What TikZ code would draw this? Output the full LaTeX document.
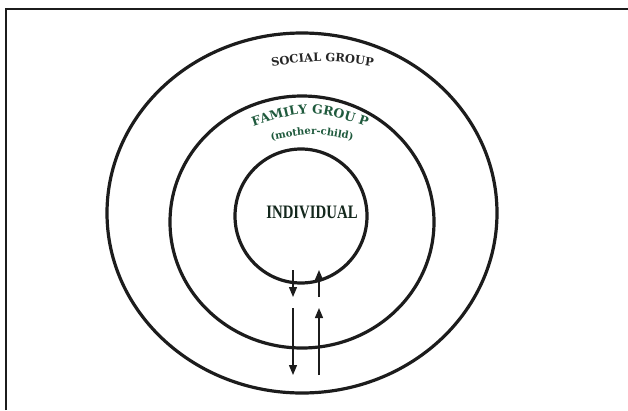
\documentclass[tikz,border=0pt]{standalone}
\usepackage{fontspec}
\setmainfont{Liberation Serif}
\newfontfamily\ringfont{DejaVu Serif}
\usetikzlibrary{shapes.geometric, arrows.meta, decorations.text}
\definecolor{ringLine}{HTML}{1C1C1C}
\definecolor{socialText}{HTML}{262626}
\definecolor{familyGreen}{HTML}{1F5A3D}
\definecolor{coreGreen}{HTML}{14281D}

\tikzset{
  ring/.style={draw=ringLine, ellipse, line width=3.2pt, inner sep=0pt},
  flow/.style={draw=ringLine, line width=1.3pt, -{Triangle[length=10pt,width=8pt]}},
}

\begin{document}
\begin{tikzpicture}[x=1pt, y=-1pt]
  \useasboundingbox (0,0) rectangle (628,410);
  % frame
  \draw[line width=2pt, ringLine] (6,410) -- (6,9) -- (628,9);
  % the three rings
  \node[ring, minimum width=390pt, minimum height=360pt] (social) at (302,213) {};
  \node[ring, minimum width=264pt, minimum height=252pt] (family) at (302,222) {};
  \node[ring, minimum width=132pt, minimum height=134pt] (self) at (301,216) {};
  % ring labels
  \path[decorate, decoration={text along path, text align=center, text color=socialText,
        text={|\ringfont\bfseries\fontsize{11.5}{13}\selectfont|SOCIAL GROUP}}]
        (255,69) .. controls (322,59) .. (390,69);
  \path[decorate, decoration={text along path, text align=center, text color=familyGreen,
        text={|\ringfont\bfseries\fontsize{12.5}{14}\selectfont|FAMILY GROU P}}]
        (235,133) .. controls (310,107) .. (385,133);
  \path[decorate, decoration={text along path, text align=center, text color=familyGreen,
        text={|\ringfont\bfseries\fontsize{10}{12}\selectfont|(mother-child)}}]
        (262,142) .. controls (312,132) .. (362,142);
  \node[font=\bfseries\fontsize{19}{21}\selectfont, text=coreGreen, xscale=0.78,
        inner sep=0pt] (core) at (312,212) {INDIVIDUAL};
  % exchange arrows
  \coordinate (downA) at (293,270);
  \coordinate (downB) at (293,297);
  \coordinate (upA) at (319,297);
  \coordinate (upB) at (319,270);
  \coordinate (downC) at (293,308);
  \coordinate (downD) at (293,375);
  \coordinate (upC) at (319,375);
  \coordinate (upD) at (319,308);
  \draw[flow] (downA) -- (downB);
  \draw[flow] (upA) -- (upB);
  \draw[flow] (downC) -- (downD);
  \draw[flow] (upC) -- (upD);
\end{tikzpicture}
\end{document}
